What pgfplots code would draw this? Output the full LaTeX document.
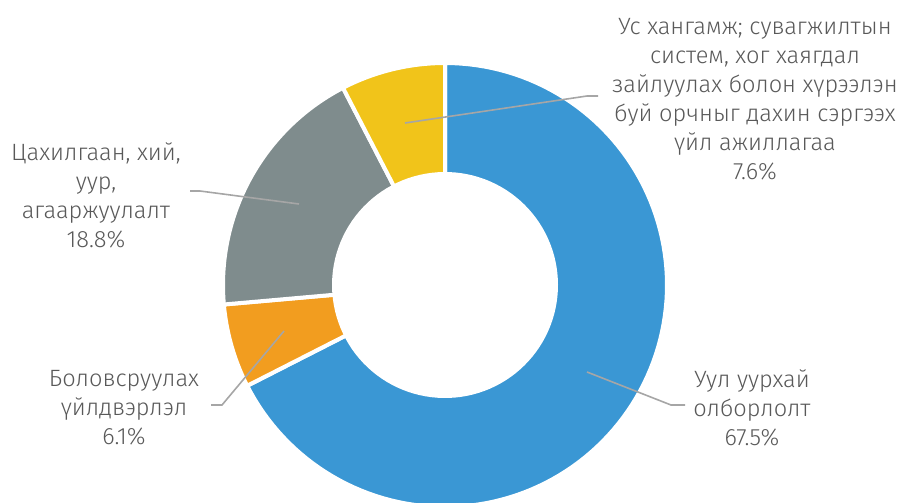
\documentclass[border=0pt]{standalone}
\usepackage{fontspec}
\setmainfont{Fira Sans Light}
\usepackage{pgfplots}
\usepackage{pgfplotstable}
\pgfplotsset{compat=1.18}
\definecolor{cblue}{HTML}{3A97D4}
\definecolor{corange}{HTML}{F29D1F}
\definecolor{cgray}{HTML}{7F8C8D}
\definecolor{cyellow}{HTML}{F1C41A}
\definecolor{ctext}{HTML}{595959}
\definecolor{cline}{HTML}{A6A6A6}
% share of each sector (percent), in clockwise order from 12 o'clock
\pgfplotstableread{
label  value
mining 67.5
manuf  6.1
power  18.8
water  7.6
}\sharetable
% \sector{cumulative share before}{share}{colour}
\newcommand{\sector}[3]{%
  \pgfmathsetmacro\angA{90-3.6*(#1)}%
  \pgfmathsetmacro\angB{90-3.6*((#1)+(#2))}%
  \addplot[fill=#3, draw=white, line width=2pt, domain=\angB:\angA, samples=120, variable=\t]
    ({445+222*cos(t)},{285-222*sin(t)}) -- (445,285) -- cycle;
}
\begin{document}
\begin{tikzpicture}
\begin{axis}[
  width=455pt, height=251.5pt, scale only axis,
  xmin=0, xmax=910, ymin=0, ymax=503, y dir=reverse,
  axis lines=none, ticks=none, clip=true,
]
\sector{0}{67.5}{cblue}
\sector{67.5}{6.1}{corange}
\sector{73.6}{18.8}{cgray}
\sector{92.4}{7.6}{cyellow}
\addplot[fill=white, draw=none, domain=0:360, samples=120, variable=\t]
  ({445+113*cos(t)},{285-113*sin(t)});
% leader lines
\addplot[cline, line width=0.8pt] coordinates {(587,372) (671,405) (685,405)};
\addplot[cline, line width=0.8pt] coordinates {(284,331) (222,405) (211,405)};
\addplot[cline, line width=0.8pt] coordinates {(299,204) (200,191) (190,191)};
\addplot[cline, line width=0.8pt] coordinates {(405,123) (587,96) (598,96)};
% labels
\begin{scope}[every node/.style={align=center, text=ctext, font=\fontsize{11.8}{14.5}\selectfont, inner sep=0pt}]
\node at (755,99) {Ус хангамж; сувагжилтын\\систем, хог хаягдал\\зайлуулах болон хүрээлэн\\буй орчныг дахин сэргээх\\үйл ажиллагаа\\7.6\%};
\node at (96,195) {Цахилгаан, хий,\\уур,\\агааржуулалт\\18.8\%};
\node at (124,408) {Боловсруулах\\үйлдвэрлэл\\6.1\%};
\node at (752,408) {Уул уурхай\\олборлолт\\67.5\%};
\end{scope}
\end{axis}
\pgfresetboundingbox
\useasboundingbox (current axis.south west) rectangle (current axis.north east);
\end{tikzpicture}
\end{document}
